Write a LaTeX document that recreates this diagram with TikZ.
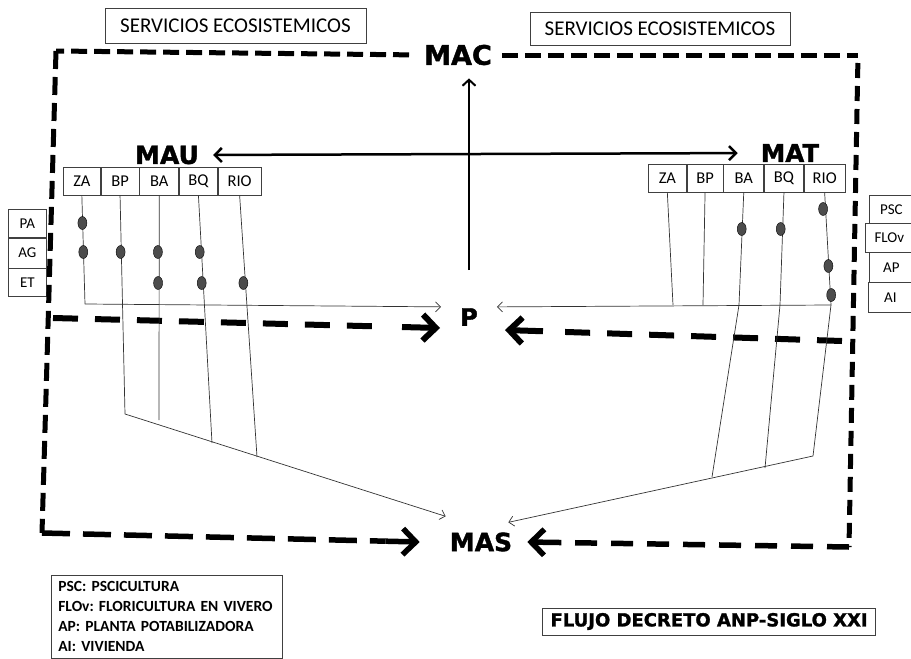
\documentclass[tikz,border=0pt]{standalone}
\usepackage{fontspec}
\setmainfont{Carlito}
\newfontfamily\heavyfont{DejaVu Sans Bold}[FakeBold=1.5]
\usetikzlibrary{arrows.meta,positioning,shapes.geometric,calc}

\begin{document}
\frenchspacing
\begin{tikzpicture}[x=1pt,y=-1pt,
    cell/.style={draw=black!75,line width=0.7pt,minimum height=28pt,inner sep=0pt,font=\fontsize{16.5}{18}\selectfont},
    side node/.style={cell,minimum width=38pt,font=\fontsize{15}{17}\selectfont},
    title node/.style={draw=black!75,line width=0.7pt,inner sep=0pt,font=\fontsize{21}{24}\selectfont},
    big/.style={inner sep=2pt,font=\heavyfont\fontsize{25}{28}\selectfont},
    dot/.style={ellipse,draw=black,fill=black!70,minimum width=9pt,minimum height=13pt,inner sep=0pt},
    wire/.style={draw=black!80,line width=0.7pt},
    flow/.style={wire,-{Straight Barb[length=5pt,width=10pt]}},
    frame/.style={line width=5pt,dash pattern=on 16pt off 7pt},
    bigdash/.style={line width=6pt,dash pattern=on 25pt off 17pt},
    bighead/.style={line width=6pt,-{Straight Barb[length=13pt,width=26pt]}}]

  \useasboundingbox (0,0) rectangle (911,659);

  % titles
  \node[title node,minimum width=261pt,minimum height=35pt] (serv1) at (235.5,25.5) {SERVICIOS ECOSISTEMICOS};
  \node[title node,minimum width=260pt,minimum height=33pt] (serv2) at (660,28.5) {SERVICIOS ECOSISTEMICOS};

  \node[big,font=\heavyfont\fontsize{27}{30}\selectfont] (MAC) at (458,55) {MAC};
  \node[big] (MAU) at (167,155) {MAU};
  \node[big,font=\heavyfont\fontsize{24.5}{28}\selectfont] (MAT) at (790,153) {MAT};
  \node[big,font=\heavyfont\fontsize{24}{28}\selectfont] (P) at (469,317) {P};
  \node[big] (MAS) at (481,542) {MAS};

  % left table
  \node[cell,minimum width=37pt,anchor=north west] (lza) at (63,167) {ZA};
  \node[cell,minimum width=38pt,right=0pt of lza] (lbp) {BP};
  \node[cell,minimum width=39pt,right=0pt of lbp] (lba) {BA};
  \node[cell,minimum width=38pt,right=0pt of lba] (lbq) {BQ};
  \node[cell,minimum width=43pt,right=0pt of lbq] (lrio) {RIO};

  % right table
  \node[cell,minimum width=38pt,anchor=north west] (rza) at (648,164) {ZA};
  \node[cell,minimum width=36pt,right=0pt of rza] (rbp) {BP};
  \node[cell,minimum width=40pt,right=0pt of rbp] (rba) {BA};
  \node[cell,minimum width=39pt,right=0pt of rba] (rbq) {BQ};
  \node[cell,minimum width=41pt,right=0pt of rbq] (rrio) {RIO};

  % side boxes
  \node[side node,anchor=north west] (pa) at (8,209) {PA};
  \node[side node,minimum height=30pt,below=0pt of pa] (ag) {AG};
  \node[side node,below=0pt of ag] (et) {ET};
  \node[side node,minimum width=44pt,anchor=north west] (psc) at (869,195) {PSC};
  \node[side node,minimum width=48pt,minimum height=29pt,anchor=north west] (flov) at (865,223) {FLOv};
  \node[side node,minimum width=44pt,minimum height=30pt,anchor=north west] (ap) at (869,252) {AP};
  \node[side node,minimum width=44pt,minimum height=30pt,anchor=north west] (ai) at (868,282) {AI};

  \node[draw=black!75,line width=0.7pt,anchor=north west,minimum width=231pt,minimum height=83pt,
        text width=217pt,inner xsep=7pt,align=left,font=\bfseries\fontsize{15.5}{20}\selectfont] (legend) at (51,575)
        {PSC: PSCICULTURA\\FLOv: FLORICULTURA EN VIVERO\\AP: PLANTA POTABILIZADORA\\AI: VIVIENDA};
  \node[draw=black!75,line width=0.7pt,anchor=east,minimum height=27pt,inner xsep=8pt,
        font=\heavyfont\fontsize{18}{20}\selectfont] (flujo) at (876,621.5) {FLUJO DECRETO ANP-SIGLO XXI};

  % frame
  \coordinate (tl) at (56,51);
  \coordinate (bl) at (42,533);
  \coordinate (tr) at (858,55);
  \coordinate (br) at (849,547);
  \coordinate (bin) at ([xshift=-28pt]MAS.west);
  \coordinate (bout) at ([xshift=13pt]MAS.east);
  \draw[frame,shorten <=13pt] (MAC.west) -- (tl);
  \draw[frame,dash pattern=on 18pt off 8pt] (tl) -- (bl);
  \draw[frame,shorten <=8pt] (MAC.east) -- (tr);
  \draw[frame,dash pattern=on 15pt off 8pt,shorten <=8pt] (tr) -- (br);
  \draw[bigdash,line width=5.5pt,dash pattern=on 28pt off 13pt] (bl) -- ($(bin)!34pt!(bl)$);
  \draw[bighead,line width=5.5pt] ($(bin)!34pt!(bl)$) -- (bin);
  \draw[bigdash,line width=5.5pt,dash pattern=on 22pt off 14pt] (br) -- ($(bout)!40pt!(br)$);
  \draw[bighead,line width=5.5pt] ($(bout)!34pt!(br)$) -- (bout);

  % flows to P
  \coordinate (ml) at (53,318);
  \coordinate (mr) at (842,341);
  \coordinate (pin) at ([xshift=-18pt,yshift=-11pt]P.west);
  \coordinate (pout) at ([xshift=25pt,yshift=-13pt]P.east);
  \draw[bigdash] (ml) -- ($(pin)!52pt!(ml)$);
  \draw[bighead] ($(pin)!38pt!(ml)$) -- (pin);
  \draw[bigdash] (mr) -- ($(pout)!52pt!(mr)$);
  \draw[bighead] ($(pout)!38pt!(mr)$) -- (pout);
  \draw[line width=2pt,-{Straight Barb[length=6pt,width=13pt]},shorten <=36pt,shorten >=11pt] (P.north) -- (P.north |- MAC.south);
  \draw[line width=2.5pt,{Straight Barb[length=7pt,width=14pt]}-{Straight Barb[length=7pt,width=14pt]},
        shorten <=12pt,shorten >=21pt] (MAU.east) -- (MAT.west);

  % left columns
  \coordinate (lzah) at (85,304);
  \coordinate (lbpe) at (125,414);
  \coordinate (lbae) at (159,420);
  \coordinate (lbqe) at (212,443);
  \coordinate (lrioe) at (257,457);
  \draw[wire] (lza.south) -- (lzah);
  \draw[wire] (lbp.south) -- (lbpe);
  \draw[wire] (lba.south) -- (lbae);
  \draw[wire] (lbq.south) -- (lbqe);
  \draw[wire] (lrio.south) -- (lrioe);
  \draw[flow,shorten >=17pt] (lzah) -- ([yshift=10pt]P.west);
  \draw[flow] (lbpe) -- ([xshift=-2pt,yshift=14pt]MAS.north west);

  % right columns
  \coordinate (rzah) at (673,305);
  \coordinate (rbph) at (703,305);
  \coordinate (rbah) at (739,305);
  \coordinate (rbqh) at (780,305);
  \coordinate (rrioh) at (831,305);
  \coordinate (rbae) at (712,477);
  \coordinate (rbqe) at (765,468);
  \coordinate (rrioe) at (813,456);
  \draw[wire] (rza.south) -- (rzah);
  \draw[wire] (rbp.south) -- (rbph);
  \draw[wire] (rba.south) -- (rbah) -- (rbae);
  \draw[wire] (rbq.south) -- (rbqh) -- (rbqe);
  \draw[wire] (rrio.south) -- (rrioh) -- (rrioe);
  \draw[flow,shorten >=17pt] (rrioh) -- ([yshift=10pt]P.east);
  \draw[flow] (rrioe) -- ([xshift=-6pt,yshift=8pt]MAS.north east);

  % uses
  \foreach \x/\y [count=\i] in {82.4/223,83.3/252,120.6/252,157.9/252,158.1/283,199.7/252,201.7/283,243.4/283,
                               741.7/229,780.7/229,823.1/209,828.4/266,831.2/295}
    \node[dot] (d\i) at (\x,\y) {};

\end{tikzpicture}
\end{document}
